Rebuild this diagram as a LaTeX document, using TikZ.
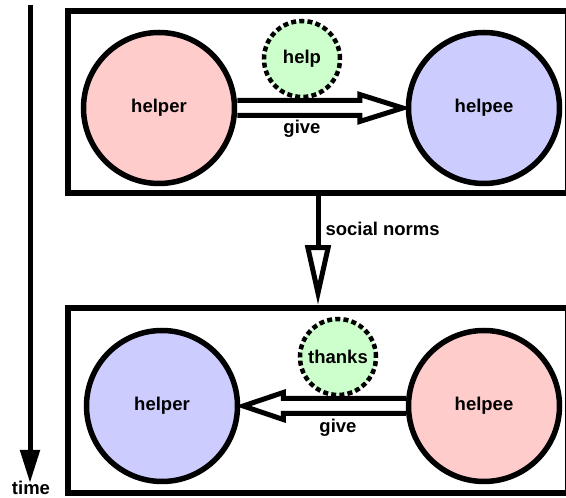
\documentclass[tikz,border=0pt]{standalone}
\usepackage{fontspec}
\setsansfont{Liberation Sans}
\usetikzlibrary{arrows.meta,calc}
\definecolor{helperpink}{HTML}{FFCCCC}
\definecolor{helpeeblue}{HTML}{CCCCFF}
\definecolor{giftgreen}{HTML}{CCFFCC}
\tikzset{
  wording/.style={
    font=\sffamily\bfseries\fontsize{18.5}{20}\selectfont,
    text=black,
    inner sep=1pt
  },
  person/.style={
    wording,
    circle,
    draw=black,
    line width=5.5pt,
    minimum size=151pt
  },
  gift/.style={
    wording,
    circle,
    draw=black,
    line width=4.5pt,
    dash pattern=on 5pt off 3.2pt,
    fill=giftgreen,
    minimum size=76pt,
    inner sep=0pt
  },
  frame/.style={
    draw=black,
    line width=5.5pt,
    minimum width=500pt,
    inner sep=0pt
  },
  hollow/.style={draw=black, line width=5pt, line join=miter},
  timeflow/.style={-{Triangle[length=33pt,width=19pt]}, line width=5pt},
  normflow/.style={-{Triangle[open,length=60pt,width=25pt,line width=5pt]}, line width=5pt}
}

\begin{document}
\begin{tikzpicture}[x=1pt,y=1pt]

\useasboundingbox (0,0) rectangle (566,498);
\clip (0,0) rectangle (566,498);

% time axis
\node[wording, anchor=base] (timelabel) at (31,3.5) {time};
\coordinate (timestart) at (30,493);
\coordinate (timeend) at (30,15);
\draw[timeflow] (timestart) -- (timeend);

% First exchange
\node[frame, minimum height=182pt] (topframe) at (318,396) {};
\node[person, fill=helperpink] (topA) at (159,390) {helper};
\node[person, fill=helpeeblue] (topB) at (484,390) {helpee};

\draw[hollow]
  ($(topA.east)+(0,7.5)$) -- ($(topB.west)+(-46,7.5)$) -- ++(0,6)
  -- ($(topB.west)+(-3,0)$)
  -- ($(topB.west)+(-46,-13.5)$) -- ++(0,6) -- ($(topA.east)+(0,-7.5)$);
\node[wording] (topgive) at (302,369) {give};
\node[gift] (tophelp) at (302,439) {help};

% Second exchange
\node[frame, minimum height=185pt] (lowframe) at (318,97.5) {};
\node[person, fill=helpeeblue] (lowA) at (162,92) {helper};
\node[person, fill=helperpink] (lowB) at (484,92) {helpee};

\draw[hollow]
  ($(lowB.west)+(0,7.5)$) -- ($(lowA.east)+(43,7.5)$) -- ++(0,6)
  -- ($(lowA.east)+(3,0)$)
  -- ($(lowA.east)+(43,-13.5)$) -- ++(0,6) -- ($(lowB.west)+(0,-7.5)$);
\node[wording] (lowgive) at (338,70) {give};
\node[gift] (lowthanks) at (338,141) {thanks};

% norms link
\draw[normflow] (topframe.south) -- (lowframe.north)
  node[wording, pos=0.3, anchor=west, xshift=4pt] (normlabel) {social norms};

\end{tikzpicture}
\end{document}
